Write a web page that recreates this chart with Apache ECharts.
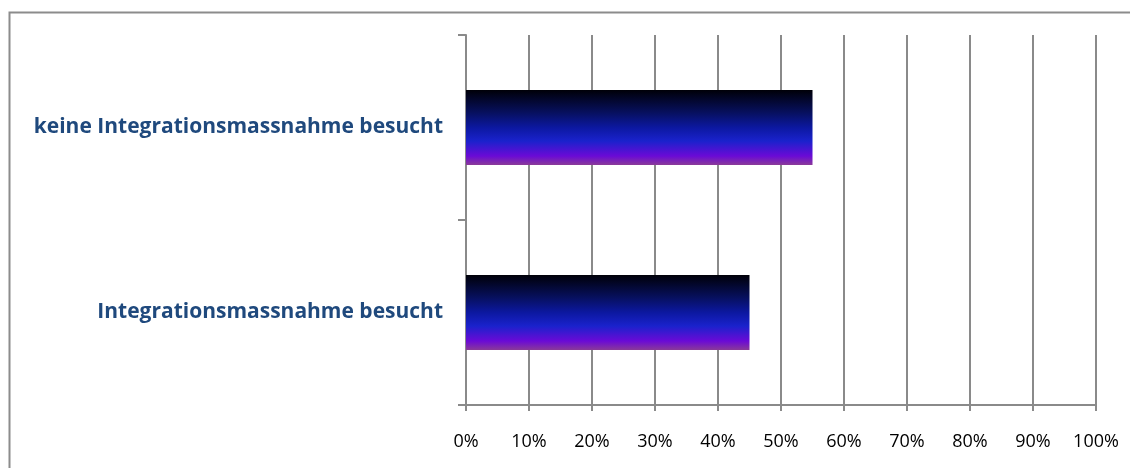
<!DOCTYPE html>
<html>
<head>
<meta charset="utf-8">
<script src="https://cdn.jsdelivr.net/npm/echarts@6/dist/echarts.min.js"></script>
<style>
  html, body { margin: 0; padding: 0; background: #fff; }
  #chart { width: 1130px; height: 468px; }
</style>
</head>
<body>
<div id="chart"></div>
<script>
// Categories from bottom to top (category axis on y runs upwards)
const categories = ['Integrationsmassnahme besucht', 'keine Integrationsmassnahme besucht'];
const shares = [45, 55];
const xTicks = [0, 10, 20, 30, 40, 50, 60, 70, 80, 90, 100];

const chart = echarts.init(document.getElementById('chart'), null, { renderer: 'canvas' });

const barFill = new echarts.graphic.LinearGradient(0, 0, 0, 1, [
  { offset: 0, color: '#000008' },
  { offset: 0.3, color: '#07105e' },
  { offset: 0.5, color: '#0c18a0' },
  { offset: 0.68, color: '#1a22cc' },
  { offset: 0.88, color: '#6a0ad6' },
  { offset: 1, color: '#8a3a98' }
]);

chart.setOption({
  animation: false,
  graphic: [{
    type: 'rect',
    shape: { x: 9.5, y: 12.5, width: 1140, height: 480 },
    style: { fill: 'none', stroke: '#8c8c8c', lineWidth: 2 },
    silent: true,
    z: -1
  }],
  grid: { left: 466, right: 34, top: 35, bottom: 63, containLabel: false },
  xAxis: {
    type: 'value',
    min: xTicks[0],
    max: xTicks[xTicks.length - 1],
    interval: 10,
    axisLine: { show: true, lineStyle: { color: '#8a8a8a', width: 2 } },
    axisTick: { show: true, length: 6, lineStyle: { color: '#8a8a8a', width: 2 } },
    splitLine: { show: true, lineStyle: { color: '#8a8a8a', width: 2 } },
    axisLabel: {
      formatter: v => v + '%',
      margin: 28,
      color: '#000',
      fontFamily: 'Open Sans',
      fontSize: 18
    }
  },
  yAxis: {
    type: 'category',
    data: categories,
    axisLine: { show: true, lineStyle: { color: '#8a8a8a', width: 2 } },
    axisTick: { show: true, length: 8, lineStyle: { color: '#8a8a8a', width: 2 } },
    axisLabel: {
      margin: 23,
      color: '#1f497d',
      fontWeight: 'bold',
      fontFamily: 'Open Sans',
      fontSize: 21
    }
  },
  series: [{
    type: 'bar',
    data: shares,
    barWidth: 75,
    itemStyle: { color: barFill }
  }]
});
</script>
</body>
</html>
